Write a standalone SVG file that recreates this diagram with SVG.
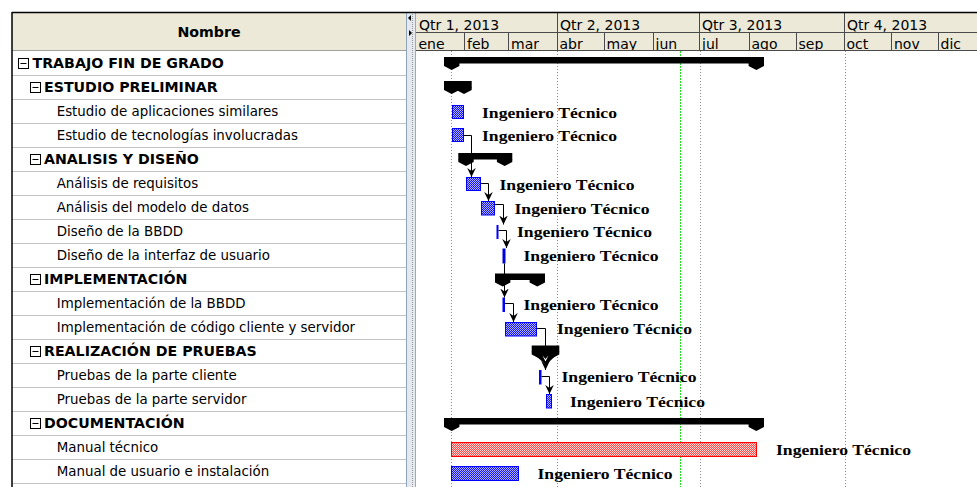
<svg xmlns="http://www.w3.org/2000/svg" width="977" height="487" viewBox="0 0 977 487">
<style>
.hdr{fill:#ece9d8}
.sep{stroke:#c4c4c4;stroke-width:1}
.hl{stroke:#4a4a4a;stroke-width:1;fill:none}
.tn{font-family:"DejaVu Sans",Verdana,sans-serif;font-size:13.4px;fill:#000}
.tb{font-family:"DejaVu Sans",Verdana,sans-serif;font-size:14.2px;font-weight:bold;fill:#000}
.ht{font-family:"DejaVu Sans",Verdana,sans-serif;font-size:14px;fill:#000}
.box{fill:#fff;stroke:#000;stroke-width:1}
.lbl{font-family:"Liberation Serif","Times New Roman",serif;font-size:15px;font-weight:bold;fill:#000}
.grid{stroke:#8c8c8c;stroke-width:1;stroke-dasharray:1 2}
.now{stroke:#1ee01e;stroke-width:1;stroke-dasharray:2 1}
.bar{fill:url(#pb);stroke:#0000ff;stroke-width:1}
.rbar{fill:url(#pr);stroke:#ff0000;stroke-width:1}
.thin{fill:#0000ff}
.sum{fill:#000}
.con{fill:none;stroke:#000;stroke-width:1;marker-end:url(#ah)}
</style>
<defs>
<pattern id="pb" width="2" height="2" patternUnits="userSpaceOnUse">
<rect width="2" height="2" fill="#1010ff" shape-rendering="crispEdges"/>
<rect width="1" height="1" fill="#b4b4ff" shape-rendering="crispEdges"/>
<rect x="1" y="1" width="1" height="1" fill="#b4b4ff" shape-rendering="crispEdges"/>
</pattern>
<pattern id="pr" width="2" height="2" patternUnits="userSpaceOnUse">
<rect width="2" height="2" fill="#ff4a4a" shape-rendering="crispEdges"/>
<rect width="1" height="1" fill="#ffd6d6" shape-rendering="crispEdges"/>
<rect x="1" y="1" width="1" height="1" fill="#ffd6d6" shape-rendering="crispEdges"/>
</pattern>
<marker id="ah" viewBox="0 0 9 9" refX="9" refY="4.5" markerWidth="9" markerHeight="9" markerUnits="userSpaceOnUse" orient="auto">
<path d="M0,0.2 L9,4.5 L0,8.8 L3,4.5 Z" fill="#000"/>
</marker>
<clipPath id="mclip"><rect x="416" y="32" width="561" height="18"/></clipPath>
</defs>

<rect width="977" height="487" fill="#fff"/>

<g id="table">
<rect class="hdr" x="12" y="12.5" width="394" height="38"/>
<text class="tb" x="209" y="37" text-anchor="middle">Nombre</text>
<line x1="12" y1="50.5" x2="406" y2="50.5" stroke="#a0a0a0"/>
<g class="sep">
<line x1="12" y1="75.5" x2="406" y2="75.5"/>
<line x1="12" y1="99.5" x2="406" y2="99.5"/>
<line x1="12" y1="123.5" x2="406" y2="123.5"/>
<line x1="12" y1="147.5" x2="406" y2="147.5"/>
<line x1="12" y1="171.5" x2="406" y2="171.5"/>
<line x1="12" y1="195.5" x2="406" y2="195.5"/>
<line x1="12" y1="219.5" x2="406" y2="219.5"/>
<line x1="12" y1="243.5" x2="406" y2="243.5"/>
<line x1="12" y1="267.5" x2="406" y2="267.5"/>
<line x1="12" y1="291.5" x2="406" y2="291.5"/>
<line x1="12" y1="315.5" x2="406" y2="315.5"/>
<line x1="12" y1="339.5" x2="406" y2="339.5"/>
<line x1="12" y1="363.5" x2="406" y2="363.5"/>
<line x1="12" y1="387.5" x2="406" y2="387.5"/>
<line x1="12" y1="411.5" x2="406" y2="411.5"/>
<line x1="12" y1="435.5" x2="406" y2="435.5"/>
<line x1="12" y1="459.5" x2="406" y2="459.5"/>
<line x1="12" y1="483.5" x2="406" y2="483.5"/>
</g>
</g>

<g id="row0"><rect class="box" x="18.5" y="58.5" width="10" height="10"/><line x1="20.5" y1="63.5" x2="26.5" y2="63.5" stroke="#000"/><text class="tb" x="32.5" y="67.7">TRABAJO FIN DE GRADO</text></g>
<g id="row1"><rect class="box" x="30.5" y="82.5" width="10" height="10"/><line x1="32.5" y1="87.5" x2="38.5" y2="87.5" stroke="#000"/><text class="tb" x="44" y="91.7">ESTUDIO PRELIMINAR</text></g>
<g id="row2"><text class="tn" x="56.7" y="115.6">Estudio de aplicaciones similares</text></g>
<g id="row3"><text class="tn" x="56.7" y="139.6">Estudio de tecnologías involucradas</text></g>
<g id="row4"><rect class="box" x="30.5" y="154.5" width="10" height="10"/><line x1="32.5" y1="159.5" x2="38.5" y2="159.5" stroke="#000"/><text class="tb" x="44" y="163.7">ANALISIS Y DISEÑO</text></g>
<g id="row5"><text class="tn" x="56.7" y="187.8">Análisis de requisitos</text></g>
<g id="row6"><text class="tn" x="56.7" y="211.8">Análisis del modelo de datos</text></g>
<g id="row7"><text class="tn" x="56.7" y="235.8">Diseño de la BBDD</text></g>
<g id="row8"><text class="tn" x="56.7" y="259.9">Diseño de la interfaz de usuario</text></g>
<g id="row9"><rect class="box" x="30.5" y="274.5" width="10" height="10"/><line x1="32.5" y1="279.5" x2="38.5" y2="279.5" stroke="#000"/><text class="tb" x="44" y="284">IMPLEMENTACIÓN</text></g>
<g id="row10"><text class="tn" x="56.7" y="308">Implementación de la BBDD</text></g>
<g id="row11"><text class="tn" x="56.7" y="332">Implementación de código cliente y servidor</text></g>
<g id="row12"><rect class="box" x="30.5" y="346.5" width="10" height="10"/><line x1="32.5" y1="351.5" x2="38.5" y2="351.5" stroke="#000"/><text class="tb" x="44" y="356.1">REALIZACIÓN DE PRUEBAS</text></g>
<g id="row13"><text class="tn" x="56.7" y="380.1">Pruebas de la parte cliente</text></g>
<g id="row14"><text class="tn" x="56.7" y="404.2">Pruebas de la parte servidor</text></g>
<g id="row15"><rect class="box" x="30.5" y="418.5" width="10" height="10"/><line x1="32.5" y1="423.5" x2="38.5" y2="423.5" stroke="#000"/><text class="tb" x="44" y="428.3">DOCUMENTACIÓN</text></g>
<g id="row16"><text class="tn" x="56.7" y="452.3">Manual técnico</text></g>
<g id="row17"><text class="tn" x="56.7" y="476.4">Manual de usuario e instalación</text></g>

<g id="splitter">
<rect x="406" y="12.5" width="10" height="475" fill="#e4e9ef"/>
<line x1="406.5" y1="12" x2="406.5" y2="487" stroke="#8fa3bb"/>
<line x1="412.5" y1="12" x2="412.5" y2="487" stroke="#9a9a9a" stroke-dasharray="1 1"/>
<line x1="415.5" y1="12" x2="415.5" y2="487" stroke="#a8a8a8"/>
<path d="M411,15 L408,18 L411,21 Z" fill="#000"/>
<path d="M409,30 L412,33 L409,36 Z" fill="#000"/>
</g>

<g id="timescale">
<rect class="hdr" x="416" y="12.5" width="561" height="38"/>
<g class="hl">
<line x1="416" y1="32.5" x2="977" y2="32.5"/>
<line x1="416" y1="50.5" x2="977" y2="50.5"/>
<line x1="557.5" y1="12.5" x2="557.5" y2="50.5"/>
<line x1="699.5" y1="12.5" x2="699.5" y2="50.5"/>
<line x1="844.5" y1="12.5" x2="844.5" y2="50.5"/>
<line x1="464.5" y1="32.5" x2="464.5" y2="50.5"/>
<line x1="508.5" y1="32.5" x2="508.5" y2="50.5"/>
<line x1="604.5" y1="32.5" x2="604.5" y2="50.5"/>
<line x1="653.5" y1="32.5" x2="653.5" y2="50.5"/>
<line x1="749.5" y1="32.5" x2="749.5" y2="50.5"/>
<line x1="796.5" y1="32.5" x2="796.5" y2="50.5"/>
<line x1="891.5" y1="32.5" x2="891.5" y2="50.5"/>
<line x1="938.5" y1="32.5" x2="938.5" y2="50.5"/>
</g>
<text class="ht" x="419" y="29.5">Qtr 1, 2013</text>
<text class="ht" x="560" y="29.5">Qtr 2, 2013</text>
<text class="ht" x="702" y="29.5">Qtr 3, 2013</text>
<text class="ht" x="847" y="29.5">Qtr 4, 2013</text>
<g clip-path="url(#mclip)">
<text class="ht" x="418.5" y="48.5">ene</text>
<text class="ht" x="467" y="48.5">feb</text>
<text class="ht" x="511" y="48.5">mar</text>
<text class="ht" x="559.5" y="48.5">abr</text>
<text class="ht" x="606.5" y="48.5">may</text>
<text class="ht" x="655.5" y="48.5">jun</text>
<text class="ht" x="702" y="48.5">jul</text>
<text class="ht" x="751.5" y="48.5">ago</text>
<text class="ht" x="798.5" y="48.5">sep</text>
<text class="ht" x="846.5" y="48.5">oct</text>
<text class="ht" x="894" y="48.5">nov</text>
<text class="ht" x="940.5" y="48.5">dic</text>
</g>
</g>
<line x1="12" y1="12.5" x2="977" y2="12.5" stroke="#000" stroke-width="1.5"/>
<line x1="12" y1="12" x2="12" y2="487" stroke="#000" stroke-width="1.5"/>

<g id="gridlines">
<line class="grid" x1="451.5" y1="51" x2="451.5" y2="487"/>
<line class="grid" x1="557.5" y1="51" x2="557.5" y2="487"/>
<line class="grid" x1="700.5" y1="51" x2="700.5" y2="487"/>
<line class="grid" x1="845.5" y1="51" x2="845.5" y2="487"/>
<line class="now" x1="680.5" y1="51" x2="680.5" y2="487"/>
</g>

<g id="sum0" class="sum"><rect x="444" y="57" width="320" height="6.5"/><path d="M444,63 H459.4 V66 L451.7,70 L444,66 Z"/><path d="M748.6,63 H764 V66 L756.3,70 L748.6,66 Z"/></g>
<g id="sum1" class="sum"><rect x="444" y="81" width="27.7" height="6.5"/><path d="M444,87 H459.4 V90 L451.7,94 L444,90 Z"/><path d="M456.3,87 H471.7 V90 L464,94 L456.3,90 Z"/></g>
<g id="sum4" class="sum"><rect x="458.3" y="153" width="54" height="6.5"/><path d="M458.3,159 H473.7 V162 L466,166 L458.3,162 Z"/><path d="M496.9,159 H512.3 V162 L504.6,166 L496.9,162 Z"/></g>
<g id="sum9" class="sum"><rect x="495" y="273.5" width="50" height="6.5"/><path d="M495,279.5 H510.4 V282.5 L502.7,286.5 L495,282.5 Z"/><path d="M529.6,279.5 H545 V282.5 L537.3,286.5 L529.6,282.5 Z"/></g>
<g id="sum12" class="sum"><rect x="531.7" y="345.5" width="27.6" height="6.5"/><path d="M531.7,351.5 H547.1 V354.5 L539.4,358.5 L531.7,354.5 Z"/><path d="M543.9,351.5 H559.3 V354.5 L551.6,358.5 L543.9,354.5 Z"/><path d="M531.7,352 L559.3,352 L546,365 Z"/></g>
<g id="sum15" class="sum"><rect x="444" y="418" width="320" height="6.5"/><path d="M444,424 H459.4 V427 L451.7,431 L444,427 Z"/><path d="M748.6,424 H764 V427 L756.3,431 L748.6,427 Z"/></g>

<g id="bar2"><rect class="bar" x="452.5" y="105.5" width="11" height="13"/><text class="lbl" x="482" y="117.5" textLength="135" lengthAdjust="spacingAndGlyphs">Ingeniero Técnico</text></g>
<g id="bar3"><rect class="bar" x="452.5" y="128.5" width="11" height="13"/><text class="lbl" x="482" y="141" textLength="135" lengthAdjust="spacingAndGlyphs">Ingeniero Técnico</text></g>
<g id="bar5"><rect class="bar" x="466.5" y="177.5" width="14" height="13"/><text class="lbl" x="499.5" y="189.5" textLength="135" lengthAdjust="spacingAndGlyphs">Ingeniero Técnico</text></g>
<g id="bar6"><rect class="bar" x="481.5" y="201.5" width="13" height="13.5"/><text class="lbl" x="514.5" y="213.5" textLength="135" lengthAdjust="spacingAndGlyphs">Ingeniero Técnico</text></g>
<g id="bar7"><rect class="thin" x="496.5" y="225" width="2" height="14"/><text class="lbl" x="517" y="237" textLength="135" lengthAdjust="spacingAndGlyphs">Ingeniero Técnico</text></g>
<g id="bar8"><rect x="502.5" y="248.5" width="3" height="15" fill="#0000dd"/><text class="lbl" x="523.5" y="261" textLength="135" lengthAdjust="spacingAndGlyphs">Ingeniero Técnico</text></g>
<g id="bar10"><rect class="thin" x="502.5" y="297.5" width="2.5" height="14.5"/><text class="lbl" x="523.5" y="309.5" textLength="135" lengthAdjust="spacingAndGlyphs">Ingeniero Técnico</text></g>
<g id="bar11"><rect class="bar" x="505.5" y="322.5" width="31" height="13.5"/><text class="lbl" x="557" y="334" textLength="135" lengthAdjust="spacingAndGlyphs">Ingeniero Técnico</text></g>
<g id="bar13"><rect class="thin" x="539" y="370" width="2.5" height="14.5"/><text class="lbl" x="561.5" y="382" textLength="135" lengthAdjust="spacingAndGlyphs">Ingeniero Técnico</text></g>
<g id="bar14"><rect class="bar" x="546.5" y="394.5" width="5" height="13.5"/><text class="lbl" x="570" y="406.5" textLength="135" lengthAdjust="spacingAndGlyphs">Ingeniero Técnico</text></g>
<g id="bar16"><rect class="rbar" x="451.5" y="442.5" width="305" height="14"/><text class="lbl" x="776" y="454.5" textLength="135" lengthAdjust="spacingAndGlyphs">Ingeniero Técnico</text></g>
<g id="bar17"><rect class="bar" x="451.5" y="466.5" width="67" height="14"/><text class="lbl" x="537.5" y="478.5" textLength="135" lengthAdjust="spacingAndGlyphs">Ingeniero Técnico</text></g>

<g id="connectors">
<path class="con" d="M463.5,135.5 H471.5 V177"/>
<path class="con" d="M481,183.5 H488.5 V201"/>
<path class="con" d="M495,204.5 H503.5 V224.5"/>
<path class="con" d="M498.5,230.5 H506.5 V248"/>
<path class="con" d="M504.5,263.5 V297.5"/>
<path class="con" d="M505,303.5 H513.5 V322"/>
<path class="con" d="M537,328.5 H545.5 V370"/>
<path d="M542.5,355.5 L545.5,359 L548.5,355.5 L545.5,361.5 Z" fill="#fff"/>
<path class="con" d="M541.5,376.5 H549.5 V394"/>
</g>
</svg>
